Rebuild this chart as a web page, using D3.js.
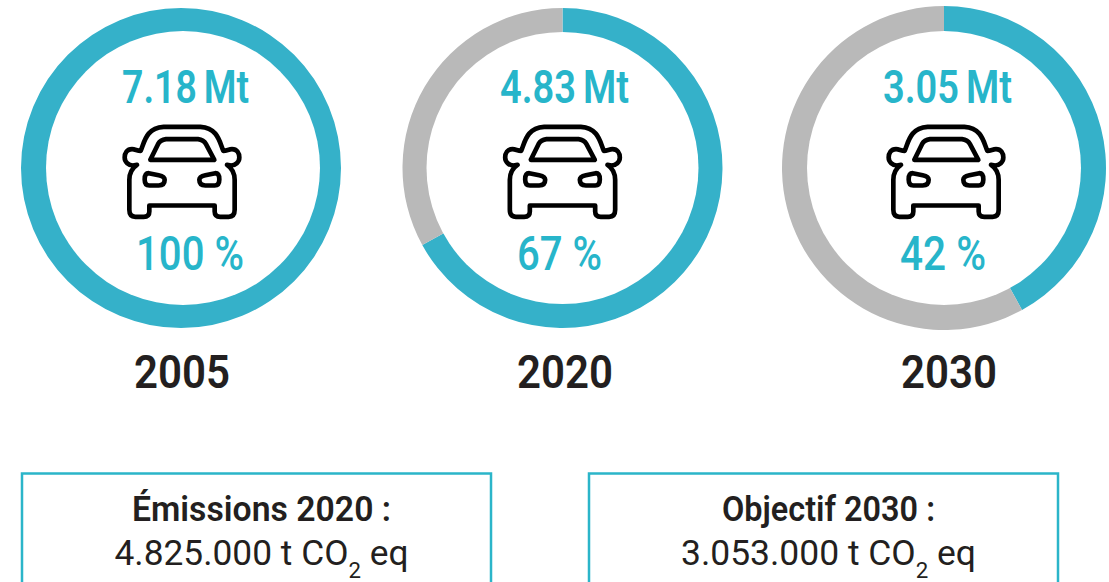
<!DOCTYPE html>
<html>
<head>
<meta charset="utf-8">
<script src="https://cdn.jsdelivr.net/npm/d3@7"></script>
<style>
  html, body { margin: 0; padding: 0; background: #fff; overflow: hidden; }
  text { font-family: Roboto, sans-serif; }
</style>
</head>
<body>
<svg id="chart" width="1109" height="582"></svg>
<script>
// Values
const years = ['2005', '2020', '2030'];
const shares = [100, 67, 42];
const totalsLabels = ['7.18 Mt', '4.83 Mt', '3.05 Mt'];
const shareLabels = ['100 %', '67 %', '42 %'];
const boxTitles = ['Émissions 2020 :', 'Objectif 2030 :'];
const boxValues = ['4.825.000', '3.053.000'];

const blue = '#35b1c9';
const textBlue = '#27b5ca';
const grey = '#b9b9b9';
const dark = '#231f20';

const svg = d3.select('#chart');

// Layout of the three rings
const ringX = d3.scalePoint().domain(years).range([181, 944]);
const ringY = [168, 168, 168];
const outer = [160, 160, 162];
const holeR = [137, 136, 137];
const holeShift = [2, 0, 0]; // the hole of the first ring sits a bit off centre
const carX = [182, 562.5, 946];
const labelX = [186.5, 565.5, 948.5];
const shareX = [190, 559.5, 943];
const yearX = [182, 565, 949];
const mtWidth = [127, 129, 129];
const shareWidth = [108, 85, 86];

const pie = d3.pie().sort(null).value((d) => d);
const arc = d3.arc();

// Car icon, drawn around its own centre at 3x
const carBody = 'M-124,-62 C-112,-90 -108,-130 -55,-134 L55,-134 C108,-130 112,-90 124,-62 ' +
  'C135,-62 140,-67 150,-67 C165,-67 172,-55 172,-42 C172,-28 160,-18 147,-18 L135,-20 ' +
  'C150,-10 158,5 158,25 L158,115 Q158,136 140,136 L115,136 Q98,136 98,120 L98,102 ' +
  'L-98,102 L-98,120 Q-98,136 -115,136 L-140,136 Q-158,136 -158,115 L-158,25 ' +
  'C-158,5 -150,-10 -135,-20 L-147,-18 C-160,-18 -172,-28 -172,-42 C-172,-55 -165,-67 -150,-67 ' +
  'C-140,-67 -135,-62 -124,-62 Z';
const carGlass = 'M-95,-35 L-72,-82 Q-65,-95 -48,-97 L48,-97 Q65,-95 72,-82 L97,-35 Z';
const carLamp = 'M-100,5 L-70,11 Q-52,15 -52,25 Q-52,42 -70,42 L-98,42 Q-112,42 -112,24 Q-112,5 -100,5 Z';

years.forEach((year, i) => {
  const g = svg.append('g');

  const ring = g.append('g')
    .attr('transform', `translate(${ringX(year)},${ringY[i]})`);
  ring.selectAll('path')
    .data(pie([shares[i], 100 - shares[i]]))
    .enter()
    .append('path')
    .attr('d', (d) => arc.innerRadius(holeR[i] - 5).outerRadius(outer[i])(d))
    .attr('fill', (d, j) => (j === 0 ? blue : grey));
  ring.append('circle')
    .attr('cx', holeShift[i])
    .attr('r', holeR[i])
    .attr('fill', '#fff');

  g.append('text')
    .attr('x', labelX[i] - 1)
    .attr('y', 103)
    .attr('text-anchor', 'middle')
    .attr('font-size', 47)
    .attr('font-weight', 600)
    .attr('word-spacing', -3)
    .attr('fill', textBlue)
    .attr('textLength', mtWidth[i])
    .attr('lengthAdjust', 'spacingAndGlyphs')
    .text(totalsLabels[i]);

  const car = g.append('g')
    .attr('transform', `translate(${carX[i]},171.5) scale(0.3333)`)
    .attr('fill', 'none')
    .attr('stroke', '#000')
    .attr('stroke-width', 14)
    .attr('stroke-linejoin', 'round');
  car.append('path').attr('d', carBody);
  car.append('path').attr('d', carGlass);
  car.append('path').attr('d', carLamp);
  car.append('path').attr('d', carLamp).attr('transform', 'scale(-1,1)');

  g.append('text')
    .attr('x', shareX[i])
    .attr('y', 270)
    .attr('text-anchor', 'middle')
    .attr('font-size', 48)
    .attr('font-weight', 500)
    .attr('fill', textBlue)
    .attr('textLength', shareWidth[i])
    .attr('lengthAdjust', 'spacingAndGlyphs')
    .text(shareLabels[i]);

  g.append('text')
    .attr('x', yearX[i])
    .attr('y', 388)
    .attr('text-anchor', 'middle')
    .attr('font-size', 46)
    .attr('font-weight', 600)
    .attr('fill', dark)
    .attr('textLength', 96)
    .attr('lengthAdjust', 'spacingAndGlyphs')
    .text(year);
});

// The two boxes run off the bottom of the picture
const boxLeft = [22, 589];
const titleWidth = [259, 213];
const valueWidth = [294, 295];

boxTitles.forEach((title, i) => {
  const mid = boxLeft[i] + 234.5;
  const g = svg.append('g');

  g.append('rect')
    .attr('x', boxLeft[i])
    .attr('y', 473.5)
    .attr('width', 469)
    .attr('height', 130)
    .attr('fill', 'none')
    .attr('stroke', '#2bb5c9')
    .attr('stroke-width', 2.5);

  g.append('text')
    .attr('x', mid + 5)
    .attr('y', 521)
    .attr('text-anchor', 'middle')
    .attr('font-size', 35)
    .attr('font-weight', 600)
    .attr('fill', dark)
    .attr('textLength', titleWidth[i])
    .attr('lengthAdjust', 'spacingAndGlyphs')
    .text(title);

  const line = g.append('text')
    .attr('x', mid + 5)
    .attr('y', 565)
    .attr('text-anchor', 'middle')
    .attr('font-size', 35)
    .attr('font-weight', 400)
    .attr('fill', dark)
    .attr('textLength', valueWidth[i])
    .attr('lengthAdjust', 'spacingAndGlyphs');
  line.append('tspan').text(`${boxValues[i]} t CO`);
  line.append('tspan').attr('dy', 13).attr('font-size', 22).text('2');
  line.append('tspan').attr('dy', -13).text(' eq');
});
</script>
</body>
</html>
